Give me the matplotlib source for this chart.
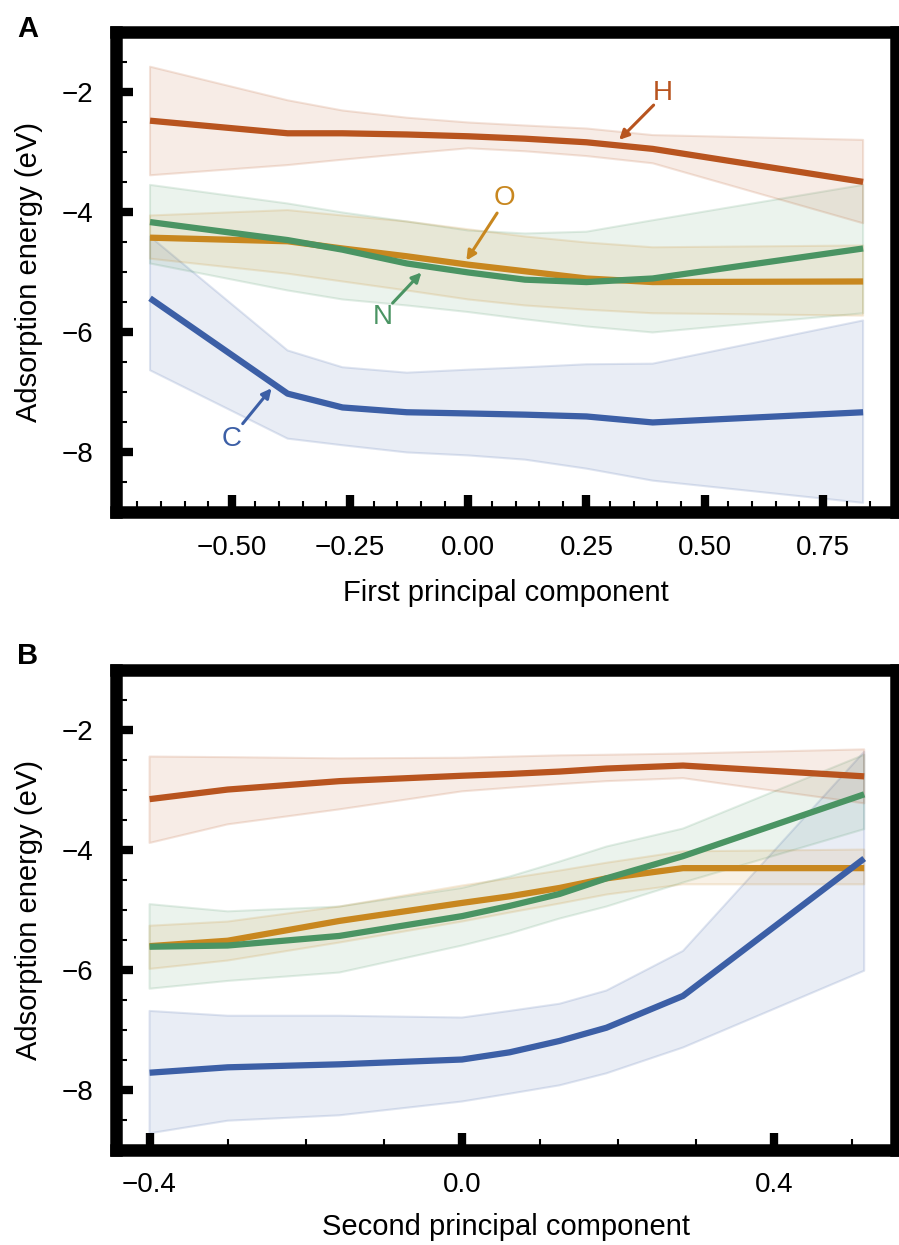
import matplotlib
matplotlib.use("Agg")
import matplotlib.pyplot as plt
from matplotlib.ticker import MultipleLocator

plt.rcParams["font.family"] = ["Liberation Sans", "DejaVu Sans"]

# colours of the four adsorbates
colors = {"H": "#B8541F", "O": "#C8871F", "N": "#4A9463", "C": "#3C5FA6"}

# ---- panel A: first principal component ----
xa = [-0.673, -0.382, -0.266, -0.13, 0.0, 0.12, 0.25, 0.39, 0.835]
a_H = [-2.47, -2.68, -2.68, -2.70, -2.73, -2.77, -2.83, -2.94, -3.49]
a_H_hi = [-1.57, -2.13, -2.30, -2.42, -2.50, -2.55, -2.60, -2.71, -2.79]
a_H_lo = [-3.38, -3.21, -3.12, -3.02, -2.93, -2.98, -3.06, -3.18, -4.18]
a_O = [-4.42, -4.48, -4.60, -4.73, -4.87, -4.98, -5.10, -5.16, -5.15]
a_O_hi = [-4.05, -3.96, -4.05, -4.15, -4.28, -4.40, -4.50, -4.58, -4.55]
a_O_lo = [-4.77, -5.02, -5.15, -5.30, -5.45, -5.55, -5.62, -5.68, -5.72]
a_N = [-4.16, -4.46, -4.62, -4.85, -5.00, -5.12, -5.16, -5.10, -4.60]
a_N_hi = [-3.54, -3.85, -4.00, -4.15, -4.30, -4.35, -4.32, -4.13, -3.54]
a_N_lo = [-4.85, -5.30, -5.45, -5.55, -5.66, -5.78, -5.90, -6.00, -5.68]
a_C = [-5.43, -7.02, -7.25, -7.33, -7.35, -7.37, -7.40, -7.50, -7.33]
a_C_hi = [-4.40, -6.30, -6.58, -6.67, -6.62, -6.58, -6.53, -6.52, -5.80]
a_C_lo = [-6.63, -7.77, -7.88, -8.00, -8.05, -8.12, -8.27, -8.47, -8.84]

# ---- panel B: second principal component ----
xb = [-0.4, -0.3, -0.157, 0.0, 0.061, 0.125, 0.185, 0.283, 0.515]
b_H = [-3.16, -3.00, -2.86, -2.77, -2.74, -2.70, -2.65, -2.60, -2.78]
b_H_hi = [-2.45, -2.46, -2.48, -2.47, -2.45, -2.43, -2.42, -2.40, -2.33]
b_H_lo = [-3.89, -3.58, -3.33, -3.03, -2.97, -2.91, -2.86, -2.81, -3.23]
b_O = [-5.61, -5.52, -5.19, -4.89, -4.78, -4.64, -4.48, -4.31, -4.31]
b_O_hi = [-5.27, -5.20, -4.95, -4.60, -4.48, -4.35, -4.22, -4.03, -4.00]
b_O_lo = [-5.99, -5.85, -5.55, -5.20, -5.05, -4.90, -4.75, -4.58, -4.58]
b_N = [-5.62, -5.60, -5.44, -5.11, -4.94, -4.74, -4.48, -4.11, -3.08]
b_N_hi = [-4.91, -5.03, -4.95, -4.64, -4.45, -4.20, -3.95, -3.65, -2.42]
b_N_lo = [-6.32, -6.19, -6.05, -5.60, -5.40, -5.15, -4.95, -4.55, -3.66]
b_C = [-7.72, -7.63, -7.58, -7.50, -7.38, -7.19, -6.97, -6.44, -4.15]
b_C_hi = [-6.69, -6.77, -6.77, -6.80, -6.69, -6.57, -6.35, -5.69, -2.37]
b_C_lo = [-8.73, -8.52, -8.43, -8.20, -8.07, -7.93, -7.73, -7.30, -6.02]

panel_a = {"C": (a_C, a_C_lo, a_C_hi), "N": (a_N, a_N_lo, a_N_hi),
           "O": (a_O, a_O_lo, a_O_hi), "H": (a_H, a_H_lo, a_H_hi)}
panel_b = {"C": (b_C, b_C_lo, b_C_hi), "N": (b_N, b_N_lo, b_N_hi),
           "O": (b_O, b_O_lo, b_O_hi), "H": (b_H, b_H_lo, b_H_hi)}

# label text position, arrow tail, arrow head (panel A only)
labels_a = {
    "H": ((0.411, -2.01), (0.392, -2.21), (0.319, -2.79)),
    "O": ((0.076, -3.76), (0.061, -4.01), (-0.004, -4.80)),
    "N": ((-0.181, -5.75), (-0.160, -5.51), (-0.099, -5.00)),
    "C": ((-0.50, -7.77), (-0.477, -7.52), (-0.416, -6.93)),
}


def style_axes(ax, xlim, major, minor):
    ax.set_xlim(*xlim)
    ax.set_ylim(-9, -1)
    for s in ax.spines.values():
        s.set_linewidth(9)
    ax.xaxis.set_major_locator(MultipleLocator(major))
    ax.xaxis.set_minor_locator(MultipleLocator(minor))
    ax.yaxis.set_major_locator(MultipleLocator(2))
    ax.yaxis.set_minor_locator(MultipleLocator(0.5))
    ax.tick_params(which="major", direction="in", length=12, width=6,
                   labelsize=20, pad=16)
    ax.tick_params(which="minor", direction="in", length=8, width=1.5)
    ax.set_ylabel("Adsorption energy (eV)", fontsize=21, labelpad=14)


def draw(ax, x, data):
    for name, (mid, lo, hi) in data.items():
        c = colors[name]
        ax.fill_between(x, lo, hi, facecolor=c, alpha=0.11, edgecolor="none")
        ax.fill_between(x, lo, hi, facecolor="none", edgecolor=c, alpha=0.16,
                        linewidth=1.5)
    for name in ["H", "O", "N", "C"]:
        mid = data[name][0]
        ax.plot(x, mid, color=colors[name], linewidth=4.5,
                solid_capstyle="butt")


fig = plt.figure(figsize=(8.99, 12.45), dpi=100)
ax1 = fig.add_axes([0.129, 0.5884, 0.8679, 0.3855])
ax2 = fig.add_axes([0.129, 0.0767, 0.8679, 0.3855])

draw(ax1, xa, panel_a)
style_axes(ax1, (-0.745, 0.905), 0.25, 0.05)
ax1.set_xlabel("First principal component", fontsize=21, labelpad=13)
for name, (txt, tail, head) in labels_a.items():
    ax1.text(txt[0], txt[1], name, color=colors[name], fontsize=20,
             ha="center", va="center")
    ax1.annotate("", xy=head, xytext=tail,
                 arrowprops=dict(arrowstyle="-|>", color=colors[name],
                                 lw=2.2, mutation_scale=14,
                                 shrinkA=0, shrinkB=0))

draw(ax2, xb, panel_b)
style_axes(ax2, (-0.443, 0.556), 0.4, 0.1)
ax2.set_xlabel("Second principal component", fontsize=21, labelpad=11)

fig.text(0.019, 0.988, "A", fontsize=21, fontweight="bold", va="top")
fig.text(0.019, 0.4843, "B", fontsize=21, fontweight="bold", va="top")

fig.savefig("out.png", dpi=100)
